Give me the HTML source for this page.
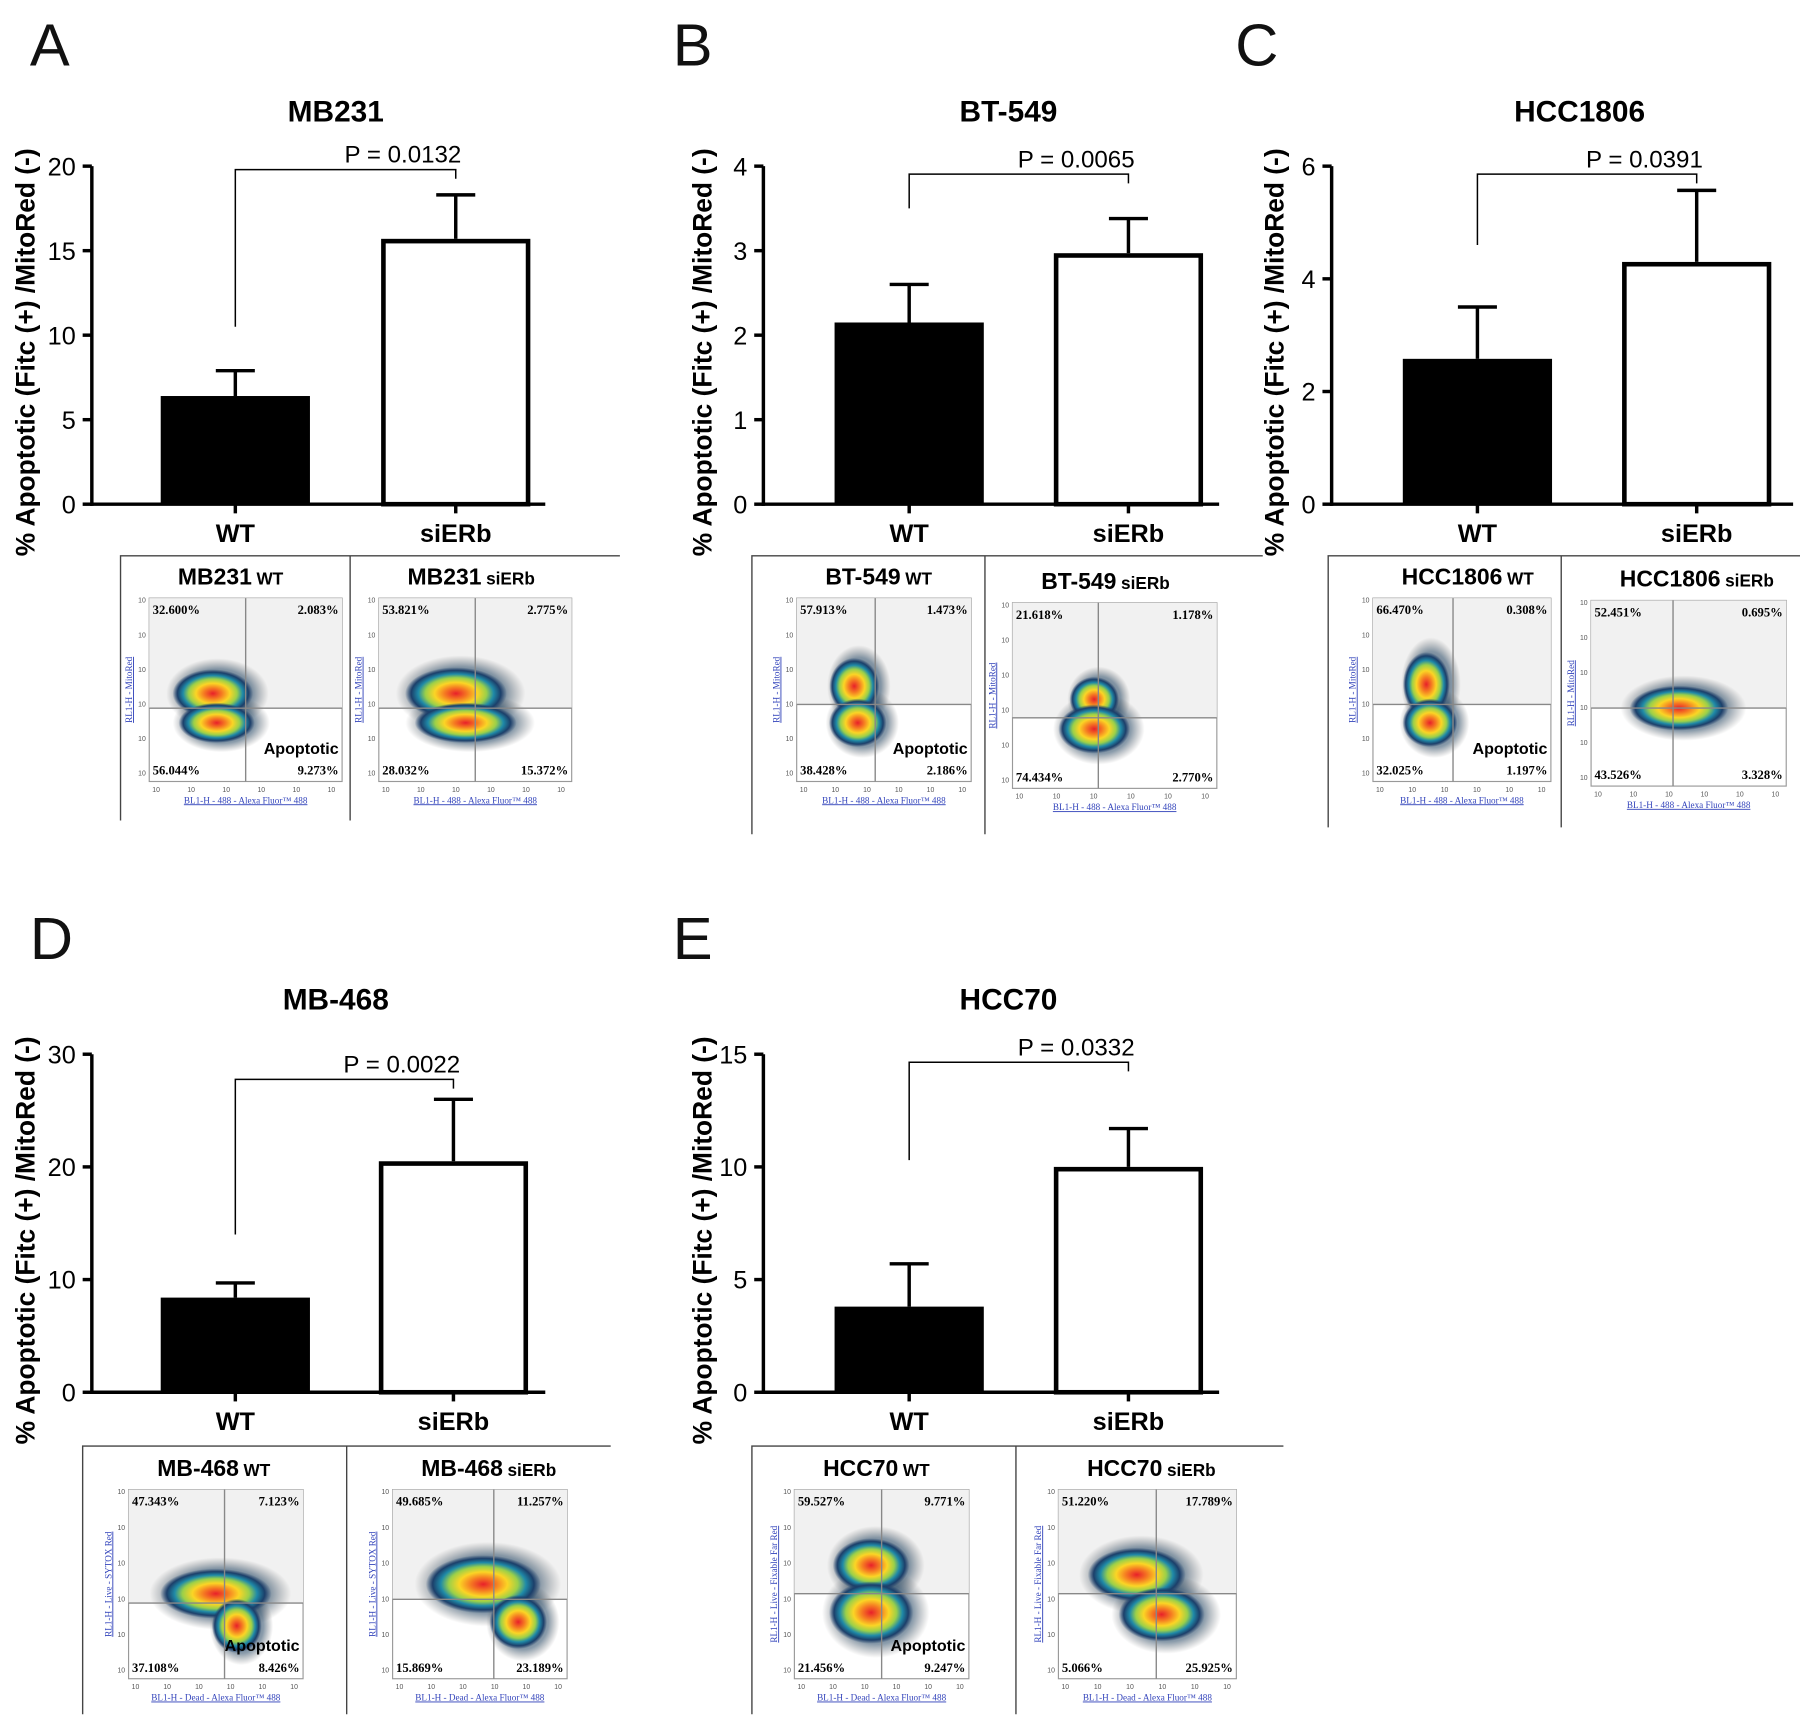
<!DOCTYPE html>
<html><head><meta charset="utf-8"><style>
html,body{margin:0;padding:0;background:#fff}
svg{display:block}
text{font-family:"Liberation Sans",Arial,sans-serif}
.serif{font-family:"Liberation Serif","Times New Roman",serif}
</style></head><body>
<svg id="fig" width="1800" height="1728" viewBox="0 0 1568 1508" preserveAspectRatio="none" xmlns="http://www.w3.org/2000/svg">
<defs>
<radialGradient id="heat" cx="50%" cy="50%" r="50%">
<stop offset="0" stop-color="#e8202a"/>
<stop offset="0.22" stop-color="#f57a22"/>
<stop offset="0.42" stop-color="#fbd525"/>
<stop offset="0.6" stop-color="#9bd049"/>
<stop offset="0.74" stop-color="#1f8aa8"/>
<stop offset="0.88" stop-color="#1c3f6a"/>
<stop offset="1" stop-color="#1c3f6a" stop-opacity="0"/>
</radialGradient>
<radialGradient id="halo" cx="50%" cy="50%" r="50%">
<stop offset="0" stop-color="#1e3550" stop-opacity="0.9"/>
<stop offset="0.7" stop-color="#2a4a66" stop-opacity="0.55"/>
<stop offset="1" stop-color="#555" stop-opacity="0"/>
</radialGradient>
</defs>
<g id="root"></g>
</svg>
<script>
const NS='http://www.w3.org/2000/svg';
const root=document.getElementById('root');
function mk(tag,attrs,parent,txt){const e=document.createElementNS(NS,tag);for(const k in attrs)e.setAttribute(k,attrs[k]);if(txt!==undefined)e.textContent=txt;(parent||root).appendChild(e);return e;}

// ---- data ----
const categories=['WT','siERb'];
const titles=['MB231','BT-549','HCC1806','MB-468','HCC70'];
const letters=['A','B','C','D','E'];
const meanValues=[[6.4,15.7],[2.15,2.97],[2.58,4.3],[8.4,20.5],[3.8,10.0]];
const errorValues=[[7.9,18.3],[2.6,3.38],[3.5,5.57],[9.7,26.0],[5.7,11.7]];
const pLabels=['P = 0.0132','P = 0.0065','P = 0.0391','P = 0.0022','P = 0.0332'];
const yMaxes=[20,4,6,30,15];
const tickSteps=[5,1,2,10,5];
const bracketStarts=[10.5,3.5,4.6,14,10.3];

// layout (not data)
const layouts=[
 {ax:80,y0:440,ytop:145,xEnd:475,b1:140,b2:332,bw:130,ylab:30,lx:26,ly:57},
 {ax:665,y0:440,ytop:145,xEnd:1062,b1:727,b2:918,bw:130,ylab:620,lx:586,ly:57},
 {ax:1160,y0:440,ytop:145,xEnd:1562,b1:1222,b2:1413,bw:130,ylab:1118,lx:1076,ly:57},
 {ax:80,y0:1215,ytop:920,xEnd:475,b1:140,b2:330,bw:130,ylab:30,lx:26,ly:837},
 {ax:665,y0:1215,ytop:920,xEnd:1062,b1:727,b2:918,bw:130,ylab:620,lx:586,ly:837}
];

layouts.forEach((L,i)=>{
  const g=mk('g',{});
  
  
  const ys=v=>L.y0-(v/yMaxes[i])*(L.y0-L.ytop);
  const lt=mk('text',{x:L.lx,y:L.ly,'font-size':52,fill:'#111'},g,letters[i]);
  
  
  const tt=mk('text',{x:(L.ax+L.xEnd)/2+15,y:L.ytop-39,'font-size':26,'font-weight':'bold','text-anchor':'middle'},g,titles[i]);
  
  
  const yl=mk('text',{x:0,y:0,'font-size':23,'font-weight':'bold','text-anchor':'middle',transform:`translate(${L.ylab},${(L.y0+L.ytop)/2+15}) rotate(-90)`},g,'% Apoptotic (Fitc (+) /MitoRed (-)');
  
  
  const ya=mk('line',{x1:L.ax,y1:L.ytop,x2:L.ax,y2:L.y0+1.5,stroke:'#000','stroke-width':3},g);
  
  
  for(let v=0;v<=yMaxes[i]+1e-9;v+=tickSteps[i]){
    mk('line',{x1:L.ax-8,y1:ys(v),x2:L.ax,y2:ys(v),stroke:'#000','stroke-width':3},g);
    const t=mk('text',{x:L.ax-14,y:ys(v)+8,'font-size':22,'text-anchor':'end'},g,String(v));
    
    
  }
  [L.b1,L.b2].forEach((bx,j)=>{
    const top=ys(meanValues[i][j]);
    const et=ys(errorValues[i][j]);
    const cx=bx+L.bw/2;
    mk('line',{x1:cx,y1:et,x2:cx,y2:top,stroke:'#000','stroke-width':3},g);
    mk('line',{x1:cx-17,y1:et,x2:cx+17,y2:et,stroke:'#000','stroke-width':3},g);
    let r;
    if(j===0) r=mk('rect',{x:bx,y:top,width:L.bw,height:L.y0-top,fill:'#000'},g);
    else r=mk('rect',{x:bx+2,y:top+2,width:L.bw-4,height:L.y0-top-2,fill:'#fff',stroke:'#000','stroke-width':4},g);
    
    
    mk('line',{x1:cx,y1:L.y0,x2:cx,y2:L.y0+8,stroke:'#000','stroke-width':3},g);
    const xl=mk('text',{x:cx,y:L.y0+33,'font-size':22,'font-weight':'bold','text-anchor':'middle'},g,categories[j]);
    
    
  });
  const xa=mk('line',{x1:L.ax-1.5,y1:L.y0,x2:L.xEnd,y2:L.y0,stroke:'#000','stroke-width':3},g);
  
  
  const c1=L.b1+L.bw/2, c2=L.b2+L.bw/2;
  const bt=ys(yMaxes[i])+ (i===0?3:(i===3?22:7));
  const br=mk('path',{d:`M${c1},${ys(bracketStarts[i])} L${c1},${bt} L${c2},${bt} L${c2},${bt+8}`,fill:'none',stroke:'#000','stroke-width':1.3},g);
  
  
  const pt=mk('text',{x:(c1+c2)/2+50,y:bt-6,'font-size':21,'text-anchor':'middle'},g,pLabels[i]);
  
  
});

// ---- flow cytometry insets ----
const insets=[
 {box:[105,485,540,716],div:305,plots:[
  {x:130,y:522,w:168,h:160,t:'MB231',s:'WT',p:['32.600%','2.083%','56.044%','9.273%'],fx:0.5,fy:0.6,blobs:[[0.33,0.52,0.38,0.12],[0.35,0.68,0.36,0.1]],apo:true,yl:'RL1-H - MitoRed'},
  {x:330,y:522,w:168,h:160,t:'MB231',s:'siERb',p:['53.821%','2.775%','28.032%','15.372%'],fx:0.5,fy:0.6,blobs:[[0.4,0.52,0.48,0.13],[0.45,0.68,0.48,0.1]],apo:false,yl:'RL1-H - MitoRed'}]},
 {box:[655,485,1100,728],div:858,plots:[
  {x:694,y:522,w:152,h:160,t:'BT-549',s:'WT',p:['57.913%','1.473%','38.428%','2.186%'],fx:0.45,fy:0.58,blobs:[[0.33,0.48,0.26,0.14],[0.35,0.68,0.3,0.12]],apo:true,yl:'RL1-H - MitoRed'},
  {x:882,y:526,w:178,h:162,t:'BT-549',s:'siERb',p:['21.618%','1.178%','74.434%','2.770%'],fx:0.42,fy:0.62,blobs:[[0.4,0.52,0.22,0.11],[0.4,0.68,0.32,0.12]],apo:false,yl:'RL1-H - MitoRed'}]},
 {box:[1157,485,1568,722],div:1360,plots:[
  {x:1196,y:522,w:155,h:160,t:'HCC1806',s:'WT',p:['66.470%','0.308%','32.025%','1.197%'],fx:0.45,fy:0.58,blobs:[[0.3,0.47,0.24,0.16],[0.32,0.68,0.28,0.12]],apo:true,yl:'RL1-H - MitoRed'},
  {x:1386,y:524,w:170,h:162,t:'HCC1806',s:'siERb',p:['52.451%','0.695%','43.526%','3.328%'],fx:0.42,fy:0.58,blobs:[[0.45,0.58,0.46,0.11]],apo:false,yl:'RL1-H - MitoRed'}]},
 {box:[72,1262,532,1496],div:302,plots:[
  {x:112,y:1300,w:152,h:165,t:'MB-468',s:'WT',p:['47.343%','7.123%','37.108%','8.426%'],fx:0.55,fy:0.6,blobs:[[0.5,0.55,0.58,0.12],[0.62,0.72,0.26,0.13]],apo:true,yl:'RL1-H - Live - SYTOX Red'},
  {x:342,y:1300,w:152,h:165,t:'MB-468',s:'siERb',p:['49.685%','11.257%','15.869%','23.189%'],fx:0.58,fy:0.58,blobs:[[0.52,0.5,0.6,0.14],[0.72,0.7,0.3,0.13]],apo:false,yl:'RL1-H - Live - SYTOX Red'}]},
 {box:[655,1262,1118,1496],div:885,plots:[
  {x:692,y:1300,w:152,h:165,t:'HCC70',s:'WT',p:['59.527%','9.771%','21.456%','9.247%'],fx:0.5,fy:0.55,blobs:[[0.44,0.4,0.4,0.13],[0.44,0.65,0.44,0.15]],apo:true,yl:'RL1-H - Live - Fixable Far Red'},
  {x:922,y:1300,w:155,h:165,t:'HCC70',s:'siERb',p:['51.220%','17.789%','5.066%','25.925%'],fx:0.55,fy:0.55,blobs:[[0.44,0.45,0.5,0.13],[0.58,0.66,0.44,0.13]],apo:false,yl:'RL1-H - Live - Fixable Far Red'}]}
];
insets.forEach((I,k)=>{
  const g=mk('g',{});
  
  
  const [x1,y1,x2,y2]=I.box;
  mk('path',{d:`M${x1},${y2} L${x1},${y1} L${x2},${y1}`,fill:'none',stroke:'#444','stroke-width':1.2},g);
  mk('line',{x1:I.div,y1:y1,x2:I.div,y2:y2,stroke:'#444','stroke-width':1.2},g);
  I.plots.forEach(P=>{
    const pg=mk('g',{},g);
    
    
    const tt=mk('text',{x:P.x+25,y:P.y-12,'font-size':20,'font-weight':'bold'},pg);
    mk('tspan',{},tt,P.t);
    mk('tspan',{'font-size':15,dx:4},tt,P.s);
    mk('rect',{x:P.x,y:P.y,width:P.w,height:P.h,fill:'#fff',stroke:'#999','stroke-width':1},pg);
    const qx=P.x+P.w*P.fx, qy=P.y+P.h*P.fy;
    mk('rect',{x:P.x,y:P.y,width:P.w,height:qy-P.y,fill:'#f1f1f1'},pg);
    P.blobs.forEach(b=>{
      mk('ellipse',{cx:P.x+P.w*b[0]+4,cy:P.y+P.h*b[1],rx:P.w*b[2]*0.7,ry:P.h*b[3]*1.6,fill:'url(#halo)'},pg);
    });
    P.blobs.forEach(b=>{
      mk('ellipse',{cx:P.x+P.w*b[0],cy:P.y+P.h*b[1],rx:P.w*b[2]*0.55,ry:P.h*b[3]*1.1,fill:'url(#heat)'},pg);
    });
    mk('line',{x1:qx,y1:P.y,x2:qx,y2:P.y+P.h,stroke:'#888','stroke-width':1.2},pg);
    mk('line',{x1:P.x,y1:qy,x2:P.x+P.w,y2:qy,stroke:'#888','stroke-width':1.2},pg);
    const fs=11;
    mk('text',{x:P.x+3,y:P.y+14,'font-size':fs,'font-weight':'bold',class:'serif'},pg,P.p[0]);
    mk('text',{x:P.x+P.w-3,y:P.y+14,'font-size':fs,'font-weight':'bold','text-anchor':'end',class:'serif'},pg,P.p[1]);
    mk('text',{x:P.x+3,y:P.y+P.h-6,'font-size':fs,'font-weight':'bold',class:'serif'},pg,P.p[2]);
    mk('text',{x:P.x+P.w-3,y:P.y+P.h-6,'font-size':fs,'font-weight':'bold','text-anchor':'end',class:'serif'},pg,P.p[3]);
    if(P.apo) mk('text',{x:P.x+P.w-3,y:P.y+P.h-24,'font-size':14,'font-weight':'bold','text-anchor':'end'},pg,'Apoptotic');
    mk('text',{x:P.x+P.w/2,y:P.y+P.h+19,'font-size':8,fill:'#3344bb','text-anchor':'middle','text-decoration':'underline',class:'serif'},pg,(k>=3?'BL1-H - Dead - Alexa Fluor™ 488':'BL1-H - 488 - Alexa Fluor™ 488'));
    mk('text',{x:0,y:0,'font-size':8,fill:'#3344bb','text-anchor':'middle','text-decoration':'underline',class:'serif',transform:`translate(${P.x-15},${P.y+P.h/2}) rotate(-90)`},pg,P.yl);
    for(let i=0;i<6;i++){
      mk('text',{x:P.x-3,y:P.y+4+i*P.h/5.3,'font-size':6,'text-anchor':'end',fill:'#555'},pg,'10');
      mk('text',{x:P.x+i*P.w/5.5+6,y:P.y+P.h+9,'font-size':6,'text-anchor':'middle',fill:'#555'},pg,'10');
    }
  });
});
</script>
</body></html>
